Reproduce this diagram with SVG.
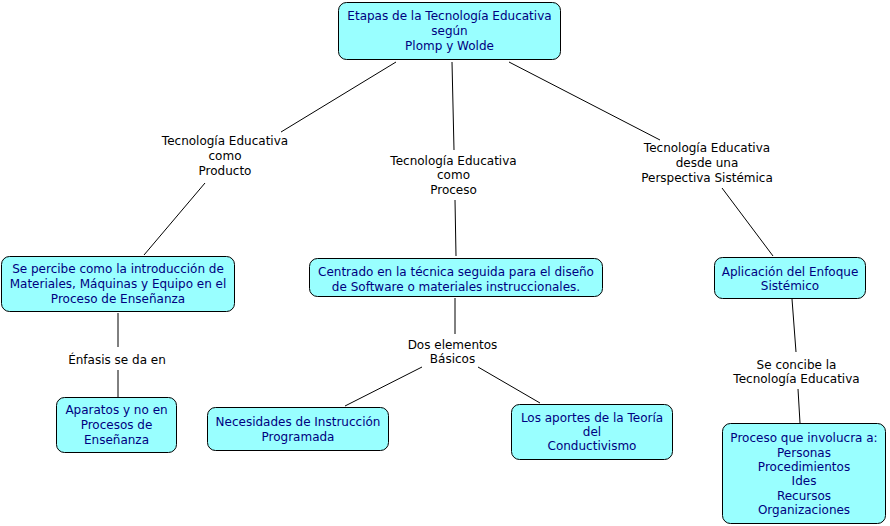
<svg xmlns="http://www.w3.org/2000/svg" width="890" height="526" viewBox="0 0 890 526">
<style>
.box{fill:#99ffff;stroke:#000;stroke-width:1}
.nt{font-family:"DejaVu Sans",Verdana,sans-serif;font-size:12px;fill:#000080;text-anchor:middle}
.lt{font-family:"DejaVu Sans",Verdana,sans-serif;font-size:12px;fill:#000;text-anchor:middle}
.c line{stroke:#000;stroke-width:1}
</style>
<rect width="890" height="526" fill="#fff"/>
<g class="c" id="connectors">
<line x1="396" y1="62" x2="281" y2="132"/>
<line x1="205" y1="183" x2="144" y2="255"/>
<line x1="452" y1="62" x2="454" y2="150"/>
<line x1="455" y1="200" x2="456" y2="256"/>
<line x1="509" y1="62" x2="660" y2="140"/>
<line x1="722" y1="188" x2="773" y2="256"/>
<line x1="118" y1="313" x2="118" y2="347"/>
<line x1="118" y1="370" x2="118" y2="397"/>
<line x1="455" y1="298" x2="455" y2="334"/>
<line x1="422" y1="367" x2="345" y2="406"/>
<line x1="478" y1="367" x2="540" y2="403"/>
<line x1="792" y1="299" x2="796" y2="352"/>
<line x1="798" y1="389" x2="800" y2="423"/>
</g>
<g id="n-top">
<rect class="box" x="338.5" y="2.5" width="222" height="57" rx="8"/>
<text class="nt" x="449.5" y="19.5">Etapas de la Tecnología Educativa</text>
<text class="nt" x="449.5" y="34.5">según</text>
<text class="nt" x="449.5" y="49.5">Plomp y Wolde</text>
</g>
<g id="l-producto">
<text class="lt" x="225" y="144.5">Tecnología Educativa</text>
<text class="lt" x="225" y="160">como</text>
<text class="lt" x="225" y="174.5">Producto</text>
</g>
<g id="l-proceso">
<text class="lt" x="453.5" y="164.5">Tecnología Educativa</text>
<text class="lt" x="453.5" y="179">como</text>
<text class="lt" x="453.5" y="193.5">Proceso</text>
</g>
<g id="l-sistemica">
<text class="lt" x="707" y="151.5">Tecnología Educativa</text>
<text class="lt" x="707" y="166.5">desde una</text>
<text class="lt" x="707" y="181.5">Perspectiva Sistémica</text>
</g>
<g id="n-percibe">
<rect class="box" x="1.5" y="256.5" width="233" height="55" rx="8"/>
<text class="nt" x="118" y="272.5">Se percibe como la introducción de</text>
<text class="nt" x="118" y="287.5">Materiales, Máquinas y Equipo en el</text>
<text class="nt" x="118" y="302.5">Proceso de Enseñanza</text>
</g>
<g id="n-centrado">
<rect class="box" x="309.5" y="258.5" width="293" height="38" rx="8"/>
<text class="nt" x="456" y="276">Centrado en la técnica seguida para el diseño</text>
<text class="nt" x="456" y="290.5">de Software o materiales instruccionales.</text>
</g>
<g id="n-aplicacion">
<rect class="box" x="714.5" y="257.5" width="151" height="41" rx="8"/>
<text class="nt" x="790" y="276">Aplicación del Enfoque</text>
<text class="nt" x="790" y="290">Sistémico</text>
</g>
<g id="l-enfasis">
<text class="lt" x="117" y="364">Énfasis se da en</text>
</g>
<g id="l-dos">
<text class="lt" x="452.5" y="349">Dos elementos</text>
<text class="lt" x="452.5" y="362.5">Básicos</text>
</g>
<g id="l-concibe">
<text class="lt" x="796.5" y="369">Se concibe la</text>
<text class="lt" x="796.5" y="383">Tecnología Educativa</text>
</g>
<g id="n-aparatos">
<rect class="box" x="56.5" y="397.5" width="120" height="55" rx="8"/>
<text class="nt" x="116.5" y="414">Aparatos y no en</text>
<text class="nt" x="116.5" y="429">Procesos de</text>
<text class="nt" x="116.5" y="444">Enseñanza</text>
</g>
<g id="n-necesidades">
<rect class="box" x="207.5" y="407.5" width="181" height="43" rx="8"/>
<text class="nt" x="298" y="426">Necesidades de Instrucción</text>
<text class="nt" x="298" y="440.5">Programada</text>
</g>
<g id="n-aportes">
<rect class="box" x="511.5" y="404.5" width="161" height="55" rx="8"/>
<text class="nt" x="592" y="422">Los aportes de la Teoría</text>
<text class="nt" x="592" y="436">del</text>
<text class="nt" x="592" y="450">Conductivismo</text>
</g>
<g id="n-involucra">
<rect class="box" x="722.5" y="423.5" width="163" height="100" rx="8"/>
<text class="nt" x="804" y="442">Proceso que involucra a:</text>
<text class="nt" x="804" y="456.5">Personas</text>
<text class="nt" x="804" y="471">Procedimientos</text>
<text class="nt" x="804" y="485">Ides</text>
<text class="nt" x="804" y="499.5">Recursos</text>
<text class="nt" x="804" y="514">Organizaciones</text>
</g>
</svg>
